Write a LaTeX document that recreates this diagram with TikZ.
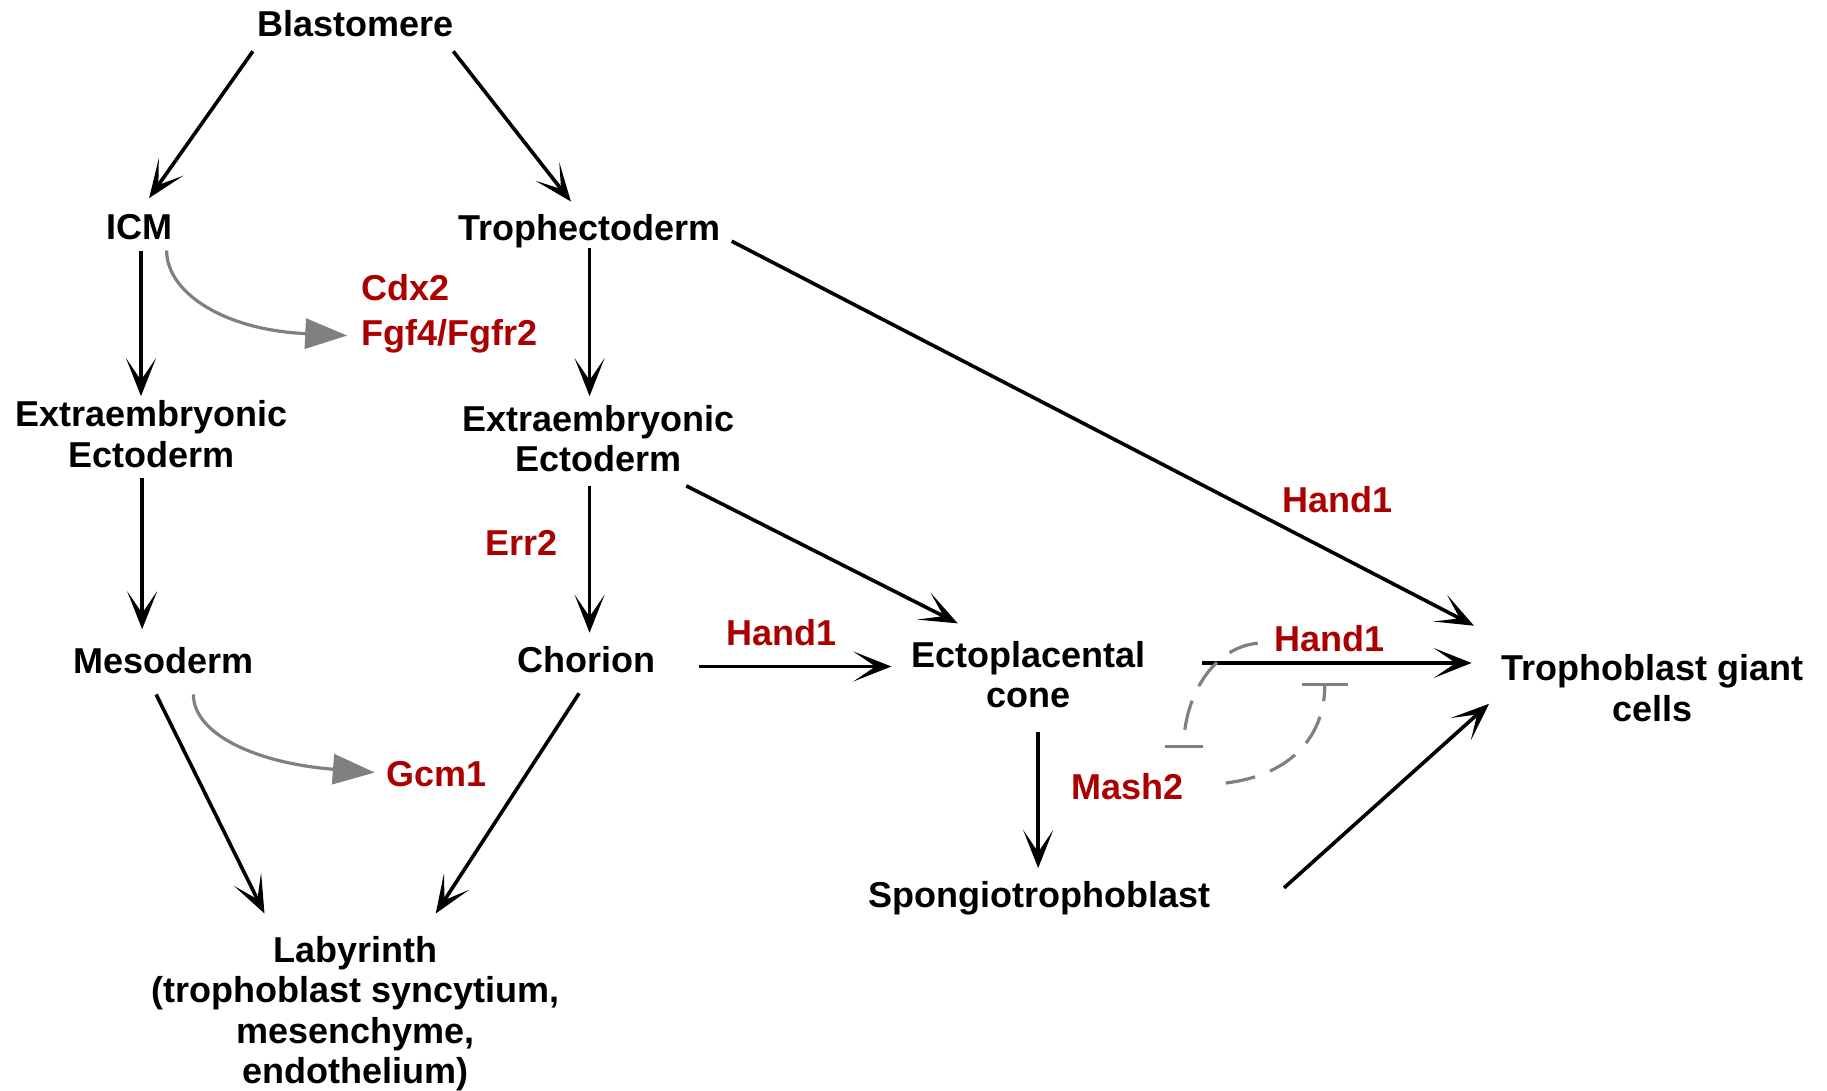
\documentclass[tikz,border=0pt]{standalone}
\usepackage{fontspec}
\setmainfont{Liberation Sans}
\usetikzlibrary{arrows.meta,calc}
\definecolor{tfred}{RGB}{170,0,0}
\definecolor{tfgrey}{RGB}{128,128,128}
\begin{document}
\begin{tikzpicture}[x=0.5826pt,y=-0.5826pt,
  lbl/.style={font=\bfseries\fontsize{18}{20.3}\selectfont, align=center, inner sep=0pt, text=black},
  gene/.style={lbl, text=tfred},
  arr/.style={line width=1.8pt, -{Stealth[length=19pt,width=15pt,inset=11pt]}},
  garr/.style={line width=1.6pt, draw=tfgrey, -{Triangle[length=21pt,width=15pt,fill=tfgrey]}},
  inh/.style={line width=1.6pt, draw=tfgrey, dash pattern=on 15pt off 8pt, -{Bar[width=#1]}},
]
\path[use as bounding box] (0,0) rectangle (1568,936);

\node[lbl] (blast) at (305,20) {Blastomere};
\node[lbl] (icm) at (120,195) {ICM};
\node[lbl] (troph) at (506,198) {Trophectoderm};
\node[gene,anchor=west] (cdx) at (310,247) {Cdx2};
\node[gene,anchor=west] (fgf) at (310,289) {Fgf4/Fgfr2};
\node[lbl] (exl) at (130,372.5) {Extraembryonic\\Ectoderm};
\node[lbl] (exr) at (514,376.5) {Extraembryonic\\Ectoderm};
\node[gene] (err) at (448,466) {Err2};
\node[gene] (handa) at (1148,429) {Hand1};
\node[lbl] (meso) at (140,567) {Mesoderm};
\node[lbl] (chor) at (503,566) {Chorion};
\node[gene] (handb) at (671,543) {Hand1};
\node[lbl] (ecto) at (883,579) {Ectoplacental\\cone};
\node[gene] (handc) at (1141,548) {Hand1};
\node[lbl] (tgc) at (1418,590.5) {Trophoblast giant\\cells};
\node[gene] (gcm) at (375,664) {Gcm1};
\node[gene] (mash) at (968,675) {Mash2};
\node[lbl] (spong) at (892,771) {Spongiotrophoblast};
\node[lbl] (laby) at (305,870) {Labyrinth\\(trophoblast syncytium,\\mesenchyme,\\endothelium)};

% black arrows
\draw[arr] ($(blast)+(-88,24)$) -- ($(icm)+(8,-25)$);
\draw[arr] ($(blast)+(84,24)$) -- ($(troph)+(-16,-25)$);
\draw[arr] ($(icm)+(1,20)$) -- ($(exl)+(-9,-32.5)$);
\draw[arr] ($(troph)+(0,15)$) -- ($(exr)+(-8,-36.5)$);
\draw[arr] ($(troph)+(122,9)$) -- ($(tgc)+(-153,-53.5)$);
\draw[arr] ($(exl)+(-8,37.5)$) -- ($(meso)+(-18,-27)$);
\draw[arr] ($(exr)+(-8,40.5)$) -- ($(chor)+(3,-23)$);
\draw[arr] ($(exr)+(75,40.5)$) -- ($(ecto)+(-61,-44)$);
\draw[arr] ($(chor)+(97,6)$) -- ($(ecto)+(-118,-7)$);
\draw[arr] ($(meso)+(-6,29)$) -- ($(laby)+(-78,-86)$);
\draw[arr] ($(chor)+(-6,29)$) -- ($(laby)+(69,-86)$);
\draw[arr] ($(ecto)+(8,49)$) -- ($(spong)+(-1,-26)$);
\draw[arr] ($(ecto)+(149,-10)$) -- ($(tgc)+(-155,-21.5)$);
\draw[arr] ($(spong)+(210,-9)$) -- ($(tgc)+(-140,13.5)$);

% grey activation curves
\draw[garr] ($(icm)+(23,20)$) .. controls ($(icm)+(23,55)$) and ($(fgf.west)+(-120,-6)$) .. ($(fgf.west)+(-12,-1)$);
\draw[garr] ($(meso)+(26,29)$) .. controls ($(meso)+(26,63)$) and ($(gcm.west)+(-112,-9)$) .. ($(gcm.west)+(-10,-1)$);

% dashed inhibition curves
\draw[inh=19pt] ($(handc.west)+(-14,4)$) .. controls ($(handc.west)+(-54,8)$) and ($(mash)+(48,-75)$) .. ($(mash)+(48,-33)$);
\draw[inh=23pt] ($(mash)+(84,-3)$) .. controls ($(mash)+(142,-10)$) and ($(handc)+(-4,82)$) .. ($(handc)+(-4,38)$);
\end{tikzpicture}
\end{document}
